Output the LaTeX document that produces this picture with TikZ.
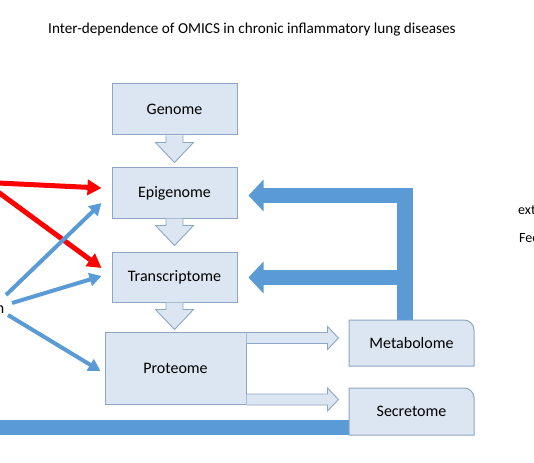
\documentclass[tikz,border=0pt]{standalone}
\usepackage{fontspec}
\setmainfont{Carlito}
\usetikzlibrary{calc,arrows.meta}
\definecolor{boxfill}{HTML}{DCE6F2}
\definecolor{boxline}{HTML}{8EA6C6}
\definecolor{fbblue}{HTML}{5B9BD5}
\definecolor{redarr}{HTML}{FF0000}
\newcommand{\hollowdown}[1]{%
  \draw[hollow] ($(#1)+(-8.5,0)$) -- ++(0,7) -- ++(-10.5,0) -- ++(19,20) -- ++(19,-20) -- ++(-10.5,0) -- ++(0,-7);}
\newcommand{\hollowright}[1]{%
  \draw[hollow] ($(#1)+(0,-5.5)$) -- ++(81,0) -- ++(0,-6) -- ++(11,11.5) -- ++(-11,11.5) -- ++(0,-6) -- ++(-81,0);}
\begin{document}
\begin{tikzpicture}[x=1pt,y=-1pt,
  font=\fontsize{16}{19}\selectfont,
  omic/.style={draw=boxline, fill=boxfill, line width=1pt, inner sep=0pt},
  hollow/.style={draw=boxline, fill=boxfill, line width=0.9pt, line join=miter},
  fbline/.style={draw=fbblue, line width=15.5pt, line join=miter, -{Triangle[length=15pt,width=31pt]}},
  redline/.style={draw=redarr, line width=5pt, -{Triangle[length=14pt,width=15pt]}},
  blueline/.style={draw=fbblue, line width=4pt, -{Triangle[length=12pt,width=13pt]}},
  plain/.style={inner sep=0pt}]
\useasboundingbox (0,0) rectangle (534,462);
\clip (0,0) rectangle (534,462);
\fill[white] (0,0) rectangle (534,462);

\node[plain, font=\fontsize{15.2}{18}\selectfont] (title) at (252,30) {Inter-dependence of OMICS in chronic inflammatory lung diseases};

% main column
\node[omic, minimum width=125pt, minimum height=51pt] (gen) at (174.5,109.5) {Genome};
\node[omic, minimum width=125pt, minimum height=50pt] (epi) at (174.5,193) {Epigenome};
\node[omic, minimum width=125pt, minimum height=50pt] (trans) at (174.5,277) {Transcriptome};
\node[omic, minimum width=141pt, minimum height=72pt] (prot) at (175.5,368) {Proteome};

\hollowdown{gen.south}
\hollowdown{epi.south}
\hollowdown{trans.south}

% bottom feedback bar (from Secretome)
\coordinate (secfb) at (0,427.5);
\draw[draw=fbblue, line width=15pt] (349,427.5) -- (secfb);

% Metabolome and Secretome (rounded top-right corner)
\path (349,320) coordinate (metNW) (474,366) coordinate (metSE);
\draw[omic] (metNW |- metSE) -- (metNW) -- ($(metSE |- metNW)+(-10,0)$) arc[start angle=-90,end angle=0,radius=10] -- (metSE) -- cycle;
\node[plain] (met) at ($(metNW)!0.5!(metSE)$) {Metabolome};
\path (349,388) coordinate (secNW) (474,435) coordinate (secSE);
\draw[omic] (secNW |- secSE) -- (secNW) -- ($(secSE |- secNW)+(-10,0)$) arc[start angle=-90,end angle=0,radius=10] -- (secSE) -- cycle;
\node[plain] (sec) at ($(secNW)!0.5!(secSE)$) {Secretome};

\hollowright{$(prot.north east)+(0,6.5)$}
\hollowright{$(prot.south east)+(0,-5)$}

% feedback arrows from Metabolome
\coordinate (fbroot) at (405,320);
\coordinate (fbside) at (413,277.5);
\draw[fbline] (fbroot) |- ($(epi.east)+(11,2.5)$);
\draw[fbline] (fbside) -- ($(trans.east)+(11,0.5)$);

% incoming arrows from the left
\coordinate (r1) at (-2,183);
\coordinate (r2) at (-2,192);
\coordinate (b1) at (6,295);
\coordinate (b2) at (12,303);
\coordinate (b3) at (8,315);
\draw[redline] (r1) -- ($(epi.west)+(-10,-5)$);
\draw[redline] (r2) -- ($(trans.west)+(-10,-9)$);
\draw[blueline] (b1) -- ($(epi.west)+(-10,10)$);
\draw[blueline] (b2) -- ($(trans.west)+(-10,-1)$);
\draw[blueline] (b3) -- ($(prot.west)+(-4,3)$);

\node[plain, anchor=base east] (nlab) at (4.5,313) {n};
\node[plain, anchor=west, font=\fontsize{14}{16}\selectfont] (ext) at (518,210) {ext};
\node[plain, anchor=west, font=\fontsize{14}{16}\selectfont] (fee) at (519,238) {Fee};
\end{tikzpicture}
\end{document}
